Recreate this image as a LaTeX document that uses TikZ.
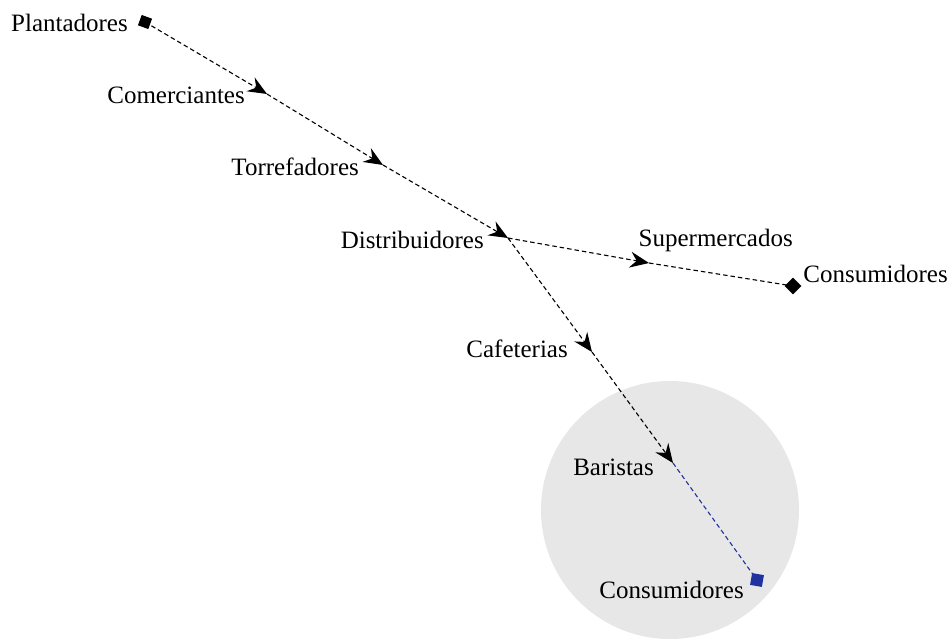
\documentclass[tikz,border=0pt]{standalone}
\usepackage{fontspec}
\setmainfont{Liberation Serif}
\usetikzlibrary{arrows.meta}
\definecolor{circgray}{HTML}{E7E7E7}
\definecolor{flowblue}{HTML}{1F32A0}
\begin{document}
\begin{tikzpicture}[x=1pt,y=-1pt,
  lbl/.style={inner sep=0pt,anchor=base east,font=\fontsize{25}{30}\selectfont},
  flow/.style={draw=black,line width=1.1pt,dash pattern=on 4.5pt off 3pt},
  arr/.style={flow,-{Stealth[length=19pt,width=16pt,inset=6.5pt]}},
  marker/.style={fill=black,minimum size=11pt,inner sep=0pt,draw=none}]
\useasboundingbox (0,0) rectangle (951,638);
\fill[circgray] (670,510) circle[radius=129];
% points
\coordinate (pP) at (145,22);
\coordinate (pC) at (267,94);
\coordinate (pT) at (383,165);
\coordinate (pD) at (508,238);
\coordinate (pS) at (649,263);
\coordinate (pCr) at (793,286);
\coordinate (pCaf) at (592,352);
\coordinate (pB) at (673,463);
\coordinate (pCb) at (757,580);
% connectors
\draw[arr] (pP) -- (pC);
\draw[arr] (pC) -- (pT);
\draw[arr] (pT) -- (pD);
\draw[arr] (pD) -- (pS);
\draw[flow] (pS) -- (pCr);
\draw[arr] (pD) -- (pCaf);
\draw[arr] (pCaf) -- (pB);
\draw[flow,draw=flowblue] (pB) -- (pCb);
% markers
\node[marker,rotate=-20] (mP) at (pP) {};
\node[marker,rotate=45,minimum size=12pt] (mCr) at (pCr) {};
\node[marker,fill=flowblue,rotate=-10,minimum size=12pt] (mCb) at (pCb) {};
% labels
\node[lbl] (lP) at (128,31) {Plantadores};
\node[lbl] (lC) at (245,103) {Comerciantes};
\node[lbl] (lT) at (359,175) {Torrefadores};
\node[lbl] (lD) at (484,248) {Distribuidores};
\node[lbl] (lS) at (793,246) {Supermercados};
\node[lbl] (lCr) at (948,282) {Consumidores};
\node[lbl] (lCaf) at (568,357) {Cafeterias};
\node[lbl] (lB) at (654,475) {Baristas};
\node[lbl] (lCb) at (744,598) {Consumidores};
\end{tikzpicture}
\end{document}
